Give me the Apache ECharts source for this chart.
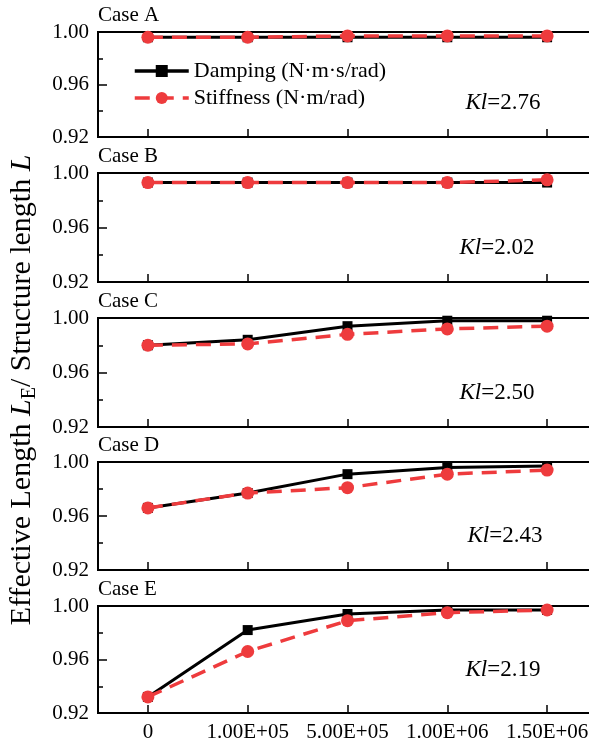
<!DOCTYPE html>
<html>
<head>
<meta charset="utf-8">
<style>
  html, body { margin: 0; padding: 0; background: #fff; }
  #chart { width: 589px; height: 747px; }
</style>
<script src="https://cdn.jsdelivr.net/npm/echarts@6/dist/echarts.min.js"></script>
</head>
<body>
<div id="chart"></div>
<script>
// Rotational spring coefficient applied at the boundary
const categories = ['0', '1.00E+05', '5.00E+05', '1.00E+06', '1.50E+06'];

// Effective length ratio L_E / L for each case
const caseNames = ['Case A', 'Case B', 'Case C', 'Case D', 'Case E'];
const klValues = ['2.76', '2.02', '2.50', '2.43', '2.19'];

const dampingA = [0.996, 0.996, 0.996, 0.996, 0.996];
const stiffnessA = [0.996, 0.996, 0.997, 0.997, 0.997];
const dampingB = [0.993, 0.993, 0.993, 0.993, 0.993];
const stiffnessB = [0.993, 0.993, 0.993, 0.993, 0.995];
const dampingC = [0.980, 0.984, 0.994, 0.998, 0.998];
const stiffnessC = [0.980, 0.981, 0.988, 0.992, 0.994];
const dampingD = [0.966, 0.977, 0.991, 0.996, 0.997];
const stiffnessD = [0.966, 0.977, 0.981, 0.991, 0.994];
const dampingE = [0.932, 0.982, 0.994, 0.997, 0.997];
const stiffnessE = [0.932, 0.966, 0.989, 0.995, 0.997];

const yMin = 0.92;
const yMax = 1.00;
const yStep = 0.04;

const dampingSets = [dampingA, dampingB, dampingC, dampingD, dampingE];
const stiffnessSets = [stiffnessA, stiffnessB, stiffnessC, stiffnessD, stiffnessE];

const DAMP_NAME = 'Damping (N\u00b7m\u00b7s/rad)';
const STIFF_NAME = 'Stiffness (N\u00b7m/rad)';
const FONT = 'Liberation Serif';
const RED = '#ee3b3d';

// panel layout (pixels); the frame runs past the right edge of the canvas
const panelTops = [32, 173, 318, 462, 606];
const panelHeights = [105, 109, 109, 108, 107];
const panelLeft = 98;
const panelWidth = 499;

const grids = [], xAxes = [], yAxes = [], series = [], graphics = [];

panelTops.forEach((top, i) => {
  const last = i === panelTops.length - 1;
  grids.push({
    left: panelLeft, top: top, width: panelWidth, height: panelHeights[i],
    show: true, borderColor: '#000', borderWidth: 2, backgroundColor: 'transparent',
    containLabel: false, outerBoundsMode: 'none'
  });
  xAxes.push({
    type: 'category', gridIndex: i, data: categories, boundaryGap: true,
    axisLine: { lineStyle: { color: '#000', width: 2 } },
    axisTick: { show: true, inside: true, alignWithLabel: true, length: 8, lineStyle: { color: '#000', width: 1.5 } },
    axisLabel: { show: last, interval: 0, hideOverlap: false, color: '#000', fontFamily: FONT, fontSize: 21, margin: 9 },
    splitLine: { show: false }
  });
  yAxes.push({
    type: 'value', gridIndex: i, min: yMin, max: yMax, interval: yStep,
    axisLine: { show: true, lineStyle: { color: '#000', width: 2 } },
    axisTick: { show: true, inside: true, length: 9, lineStyle: { color: '#000', width: 1.5 } },
    minorTick: { show: true, splitNumber: 2, length: 5, lineStyle: { color: '#000', width: 1.5 } },
    axisLabel: { color: '#000', fontFamily: FONT, fontSize: 21, margin: 9,
      formatter: v => v.toFixed(2) },
    splitLine: { show: false }
  });
  series.push({
    name: DAMP_NAME, type: 'line', xAxisIndex: i, yAxisIndex: i,
    data: dampingSets[i], symbol: 'rect', symbolSize: 10,
    lineStyle: { color: '#000', width: 3 }, itemStyle: { color: '#000' }, z: 2
  });
  series.push({
    name: STIFF_NAME, type: 'line', xAxisIndex: i, yAxisIndex: i,
    data: stiffnessSets[i], symbol: 'circle', symbolSize: 13,
    lineStyle: { color: RED, width: 3.5, type: [15, 9] }, itemStyle: { color: RED }, z: 3
  });
  graphics.push({
    type: 'text', x: 98, y: top - 17,
    style: { text: caseNames[i], fill: '#000', font: '21px "' + FONT + '"', verticalAlign: 'middle' }
  });
});

// Kl annotation centres
const klPos = [[503, 103], [497, 248], [497, 393], [505, 536], [503, 670]];
klPos.forEach((p, i) => {
  graphics.push({
    type: 'text', x: p[0], y: p[1],
    style: {
      text: '{it|Kl}=' + klValues[i], align: 'center', verticalAlign: 'middle',
      fill: '#000', font: '23px "' + FONT + '"',
      rich: { it: { fontStyle: 'italic', fontFamily: FONT, fontSize: 23, fill: '#000' } }
    }
  });
});

// shared y-axis title, read bottom to top
graphics.push({
  type: 'text', x: 22, y: 390, rotation: Math.PI / 2,
  style: {
    text: 'Effective Length {it|L}{sub|E}/ Structure length {it|L}',
    align: 'center', verticalAlign: 'middle', fill: '#000',
    font: '30px "' + FONT + '"', lineHeight: 36,
    rich: {
      it: { fontStyle: 'italic', fontFamily: FONT, fontSize: 30, lineHeight: 36, fill: '#000' },
      sub: { fontFamily: FONT, fontSize: 20, lineHeight: 24, verticalAlign: 'bottom', fill: '#000' }
    }
  }
});

const chart = echarts.init(document.getElementById('chart'), null, { renderer: 'canvas' });
chart.setOption({
  animation: false,
  backgroundColor: '#fff',
  grid: grids,
  xAxis: xAxes,
  yAxis: yAxes,
  series: series,
  legend: {
    data: [DAMP_NAME, STIFF_NAME],
    orient: 'vertical', left: 128, top: 55,
    itemWidth: 54, itemHeight: 15, itemGap: 5,
    lineStyle: { width: 3.5 },
    textStyle: { color: '#000', fontFamily: FONT, fontSize: 22 }
  },
  graphic: graphics
});
</script>
</body>
</html>
